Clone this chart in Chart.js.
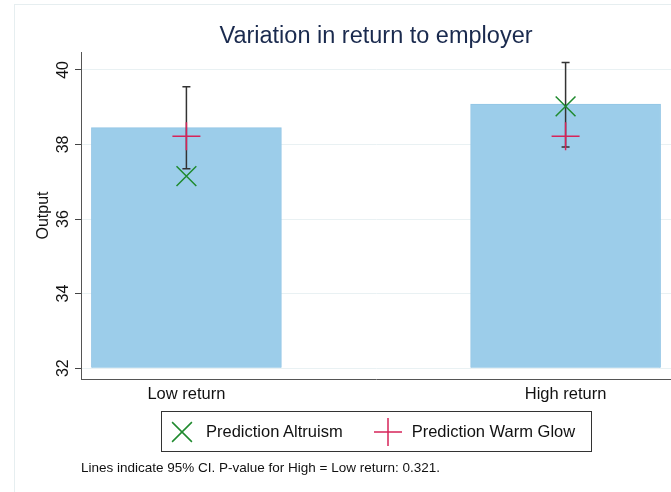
<!DOCTYPE html>
<html>
<head>
<meta charset="utf-8">
<script src="https://cdn.jsdelivr.net/npm/chart.js@4.4.1/dist/chart.umd.min.js"></script>
<style>
  html, body { margin: 0; padding: 0; background: #fff; overflow: hidden; }
  #wrap { position: relative; width: 671px; height: 492px; }
  canvas { display: block; }
  #legend {
    position: absolute;
    box-sizing: border-box;
    height: 41px;
    border: 1px solid #333;
    padding: 0 16px 0 5px;
    display: flex;
    align-items: center;
    white-space: nowrap;
    font: 16.5px "Liberation Sans", Arial, sans-serif;
    color: #111;
  }
  #legend .item { display: flex; align-items: center; }
  #legend .item + .item { margin-left: 30px; }
  #legend .item canvas { margin-right: 9px; }
</style>
</head>
<body>
<div id="wrap">
  <canvas id="chart" width="671" height="492"></canvas>
  <div id="legend"></div>
</div>
<script>
// values
const CATEGORIES = ['Low return', 'High return'];
const BAR_MEANS = [38.45, 39.08];
const CI_LOW = [37.35, 37.93];
const CI_HIGH = [39.55, 40.2];
const ALTRUISM = [37.15, 39.02];
const WARM_GLOW = [38.22, 38.22];
const Y_TICKS = [32, 34, 36, 38, 40];
const BAR_BASE = 32;

const FONT = 'Liberation Sans, Arial, Helvetica, sans-serif';
const BAR_INDEX = 2;

// outer frame of the graph region
const frame = {
  id: 'frame',
  beforeDraw (chart) {
    const { ctx, width, height } = chart;
    ctx.save();
    ctx.fillStyle = '#fff';
    ctx.fillRect(0, 0, width, height);
    ctx.strokeStyle = '#e6eef0';
    ctx.lineWidth = 1;
    ctx.strokeRect(14.5, 4.5, width + 20, height + 20);
    ctx.restore();
  }
};

// 95% CI lines, drawn over the bars and under the markers
const errorBars = {
  id: 'errorBars',
  afterDatasetDraw (chart, args) {
    if (args.index !== BAR_INDEX) return;
    const { ctx } = chart;
    const x = chart.scales.x;
    const y = chart.scales.y;
    ctx.save();
    ctx.strokeStyle = '#333';
    ctx.lineWidth = 1.5;
    CI_LOW.forEach((lo, i) => {
      const px = x.getPixelForValue(i);
      const y0 = y.getPixelForValue(lo);
      const y1 = y.getPixelForValue(CI_HIGH[i]);
      ctx.beginPath();
      ctx.moveTo(px, y0); ctx.lineTo(px, y1);
      ctx.moveTo(px - 4, y0); ctx.lineTo(px + 4, y0);
      ctx.moveTo(px - 4, y1); ctx.lineTo(px + 4, y1);
      ctx.stroke();
    });
    ctx.restore();
  }
};

// boxed legend in html, built from the chart's own legend items
const htmlLegend = {
  id: 'htmlLegend',
  afterUpdate (chart) {
    const box = document.getElementById('legend');
    box.innerHTML = '';
    const items = chart.options.plugins.legend.labels.generateLabels(chart)
      .filter(item => item.datasetIndex !== BAR_INDEX);
    items.forEach(item => {
      const ds = chart.data.datasets[item.datasetIndex];
      const row = document.createElement('span');
      row.className = 'item';
      const mark = document.createElement('canvas');
      mark.width = 30;
      mark.height = 30;
      const mctx = mark.getContext('2d');
      mctx.strokeStyle = item.strokeStyle;
      mctx.lineWidth = item.lineWidth;
      Chart.helpers.drawPoint(mctx, {
        pointStyle: item.pointStyle,
        radius: ds.pointRadius,
        borderWidth: item.lineWidth,
        rotation: 0
      }, 15, 15);
      const label = document.createElement('span');
      label.textContent = item.text;
      row.append(mark, label);
      box.appendChild(row);
    });
    const area = chart.chartArea;
    box.style.top = Math.round(area.bottom + 32) + 'px';
    box.style.left = Math.round((area.left + area.right) / 2 - box.offsetWidth / 2) + 'px';
  }
};

new Chart(document.getElementById('chart'), {
  type: 'scatter',
  data: {
    datasets: [
      {
        label: 'Prediction Altruism',
        data: ALTRUISM.map((v, i) => ({ x: i, y: v })),
        pointStyle: 'crossRot',
        pointRadius: 14,
        borderColor: '#1f8a2e',
        backgroundColor: '#1f8a2e',
        borderWidth: 1.5,
        order: 1
      },
      {
        label: 'Prediction Warm Glow',
        data: WARM_GLOW.map((v, i) => ({ x: i, y: v })),
        pointStyle: 'cross',
        pointRadius: 14,
        borderColor: '#d6245a',
        backgroundColor: '#d6245a',
        borderWidth: 1.5,
        order: 2
      },
      {
        type: 'bar',
        label: 'Output',
        data: BAR_MEANS.map((v, i) => ({ x: i, y: v })),
        base: BAR_BASE,
        barThickness: 190,
        backgroundColor: '#9ccdea',
        borderColor: '#92c5e5',
        borderWidth: 1,
        order: 3
      }
    ]
  },
  options: {
    responsive: false,
    animation: false,
    devicePixelRatio: 1,
    events: [],
    layout: { autoPadding: false, padding: { left: 23, right: 0, top: 0, bottom: 0 } },
    scales: {
      x: {
        type: 'linear',
        min: -0.278,
        max: 1.278,
        offset: false,
        afterBuildTicks: (s) => { s.ticks = CATEGORIES.map((c, i) => ({ value: i })); },
        afterFit: (s) => { s.height = 25; },
        grid: { display: false, drawTicks: false },
        border: { display: true, color: '#555', width: 1 },
        ticks: {
          padding: 6,
          autoSkip: false,
          maxRotation: 0,
          color: '#111',
          font: { family: FONT, size: 16.5 },
          callback: (v) => CATEGORIES[Math.round(v)]
        }
      },
      y: {
        min: 31.71,
        max: 40.48,
        afterBuildTicks: (s) => { s.ticks = Y_TICKS.map(v => ({ value: v })); },
        afterFit: (s) => { s.width = 58; },
        grid: { color: '#e9f1f3', tickColor: '#444', tickLength: 6, drawTicks: true },
        border: { display: true, color: '#555', width: 1 },
        ticks: {
          minRotation: 90,
          maxRotation: 90,
          crossAlign: 'center',
          padding: 3,
          color: '#111',
          font: { family: FONT, size: 16 }
        },
        title: {
          display: true,
          text: 'Output',
          color: '#111',
          font: { family: FONT, size: 16 },
          padding: { top: 10.9, bottom: 0 }
        }
      }
    },
    plugins: {
      title: {
        display: true,
        fullSize: false,
        text: 'Variation in return to employer',
        color: '#1a2a4e',
        font: { family: FONT, size: 23.5, weight: 'normal' },
        padding: { top: 22, bottom: 1.8 }
      },
      legend: { display: false },
      subtitle: {
        display: true,
        position: 'bottom',
        align: 'start',
        fullSize: false,
        text: 'Lines indicate 95% CI. P-value for High = Low return: 0.321.',
        color: '#111',
        font: { family: FONT, size: 13.5 },
        padding: { top: 55.9, bottom: 15.9 }
      },
      tooltip: { enabled: false }
    }
  },
  plugins: [frame, errorBars, htmlLegend]
});
</script>
</body>
</html>
